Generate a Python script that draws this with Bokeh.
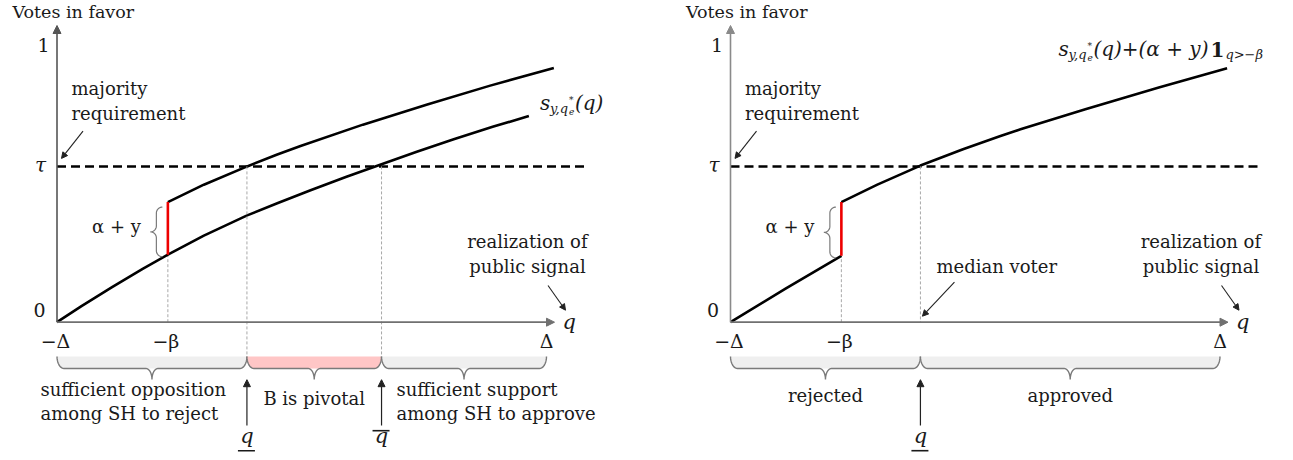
import math
from bokeh.plotting import figure
from bokeh.models import Arrow, NormalHead
from bokeh.layouts import row
from bokeh.embed import file_html
from bokeh.resources import INLINE
from bokeh.core.properties import value

# ---------------- values ----------------
# signal axis q runs from -Δ = -1 to Δ = 1 ; votes in favor run from 0 to 1
DELTA = 1.0
TAU = 0.563          # majority requirement τ
NEG_BETA = -0.547    # -β
Q_LOW = -0.224       # q underlined
Q_BAR = 0.326        # q overlined

# left panel : s_{y,q*}(q) (lower) and the curve shifted by α+y after -β (upper)
left_lower_q = [-1.0, -0.9, -0.775, -0.65, -0.547, -0.4, -0.223, -0.1, 0.036, 0.18, 0.326, 0.47, 0.621, 0.78, 0.928]
left_lower_s = [0.0, 0.058, 0.127, 0.193, 0.244, 0.313, 0.386, 0.43, 0.477, 0.525, 0.571, 0.616, 0.661, 0.706, 0.745]
left_upper_q = [-0.547, -0.4, -0.223, -0.1, -0.005, 0.25, 0.513, 0.77, 1.030]
left_upper_s = [0.434, 0.497, 0.563, 0.606, 0.637, 0.714, 0.787, 0.855, 0.919]

# right panel : s_{y,q*}(q) + (α+y) 1_{q>-β}
right_lower_q = [-1.0, -0.775, -0.547]
right_lower_s = [0.0, 0.121, 0.240]
right_upper_q = [-0.547, -0.4, -0.224, -0.05, 0.103, 0.185, 0.45, 0.75, 1.029]
right_upper_s = [0.434, 0.497, 0.566, 0.625, 0.673, 0.697, 0.770, 0.848, 0.918]

y_tick_labels = ["0", "τ", "1"]
x_tick_labels = ["−Δ", "−β", "Δ"]

left_segments = [(-1.0, Q_LOW, "#efefef"), (Q_LOW, Q_BAR, "#ffc6c6"), (Q_BAR, DELTA, "#efefef")]
right_segments = [(-1.0, Q_LOW, "#efefef"), (Q_LOW, DELTA, "#efefef")]

# ---------------- layout helpers ----------------
PX_X = 244.75   # screen pixels per data unit, horizontal
PX_Y = 276.7    # screen pixels per data unit, vertical
H = 458
Y_TOP = 321.7 / PX_Y
TEXT_RAISE = 7.0  # px


def dx(px):
    return px / PX_X


def dy(px):
    return px / PX_Y


FONT = value("DejaVu Serif")
TEXT = "#1a1a1a"
AXIS = "#707070"
GUIDE = "#a8a8a8"
BRACE = "#7a7a7a"
BAND_TOP = -dy(34.3)


def txt(p, x, y, s, size="18px", style="normal", align="left", color=TEXT):
    p.text(x=[x], y=[y + dy(TEXT_RAISE)], text=[s], text_font=FONT, text_font_size=size,
           text_font_style=style, text_align=align, text_baseline="alphabetic",
           text_color=color)


def arrow(p, x0, y0, x1, y1, color="#222222", width=1.2, size=7):
    p.add_layout(Arrow(end=NormalHead(size=size, fill_color=color, line_color=color, line_width=1),
                       x_start=x0, y_start=y0, x_end=x1, y_end=y1,
                       line_color=color, line_width=width))


def arc(cx, cy, a0, a1, rx, ry, n=10):
    xs = [cx + rx * math.cos(math.radians(a0 + (a1 - a0) * i / n)) for i in range(n + 1)]
    ys = [cy + ry * math.sin(math.radians(a0 + (a1 - a0) * i / n)) for i in range(n + 1)]
    return xs, ys


def hbrace(p, x0, x1, fill):
    ytop = BAND_TOP
    rx, ry, rxc, ryc = dx(7), dy(12), dx(6), dy(11)
    xm = (x0 + x1) / 2
    L = arc(x0 + rx, ytop, 180, 270, rx, ry)
    C1 = arc(xm - rxc, ytop - ry - ryc, 90, 0, rxc, ryc)
    C2 = arc(xm + rxc, ytop - ry - ryc, 180, 90, rxc, ryc)
    R = arc(x1 - rx, ytop, 270, 360, rx, ry)
    p.patch(L[0] + R[0], L[1] + R[1], fill_color=fill, line_color=None)
    p.line(L[0] + C1[0] + C2[0] + R[0], L[1] + C1[1] + C2[1] + R[1],
           line_color=BRACE, line_width=1.4)


def vbrace(p, xr, yt, yb):
    rx, ry = dx(6), dy(6)
    ym = (yt + yb) / 2
    T = arc(xr, yt - ry, 90, 180, rx, ry)
    C1 = arc(xr - 2 * rx, ym + ry, 0, -90, rx, ry)
    C2 = arc(xr - 2 * rx, ym - ry, 90, 0, rx, ry)
    B = arc(xr, yb + ry, 180, 270, rx, ry)
    p.line(T[0] + C1[0] + C2[0] + B[0], T[1] + C1[1] + C2[1] + B[1],
           line_color=BRACE, line_width=1.2)


def qmark(p, x, bar):
    arrow(p, x, -dy(103.3), x, -dy(57.5), color="#222222", width=1.2, size=7)
    txt(p, x, -dy(120.5), "q", size="21px", style="italic", align="center")
    yb = -dy(128.5) if bar == "under" else -dy(108.5)
    p.line([x - dx(9), x + dx(8)], [yb, yb], line_color=TEXT, line_width=1.6)


def panel(width, left_px, lower_q, lower_s, upper_q, upper_s, segments, yaxis_color):
    x0 = -1 - dx(left_px)
    p = figure(width=width, height=H, x_range=(x0, x0 + dx(width)),
               y_range=(Y_TOP - dy(H), Y_TOP), x_axis_type=None, y_axis_type=None,
               toolbar_location=None, output_backend="svg", min_border=0,
               outline_line_color=None, background_fill_color="white",
               border_fill_color="white")

    s_beta_low = lower_s[lower_q.index(NEG_BETA)]
    s_beta_up = upper_s[upper_q.index(NEG_BETA)]

    # bands and braces under the axis
    for a, b, c in segments:
        hbrace(p, a, b, c)

    # thin guide at -β
    p.line([NEG_BETA, NEG_BETA], [0, s_beta_low], line_color=GUIDE, line_width=1, line_dash="3 2")

    # axes
    arrow(p, -1, 0, DELTA + dx(8), 0, color=AXIS, width=1.8, size=8)
    arrow(p, -1, 0, -1, 1 + dy(20), color=yaxis_color, width=1.6, size=8)

    # majority requirement
    p.line([-1, 1.16], [TAU, TAU], line_color="black", line_width=2.5, line_dash="9 5")

    # curves
    p.line(lower_q, lower_s, line_color="black", line_width=2.6, line_join="round")
    p.line(upper_q, upper_s, line_color="black", line_width=2.6, line_join="round")
    p.line([NEG_BETA, NEG_BETA], [s_beta_low, s_beta_up], line_color="#ee0000", line_width=2.6)
    vbrace(p, NEG_BETA - dx(5.5), s_beta_up - dy(5), s_beta_low - dy(2))
    txt(p, NEG_BETA - dx(27), (s_beta_up + s_beta_low) / 2 - dy(5), "α + y", size="18px", align="right")

    # tick labels
    txt(p, -1 - dx(17.5), dy(5), y_tick_labels[0], size="19px", align="center")
    txt(p, -1 - dx(16.5), TAU - dy(6), y_tick_labels[1], size="20px", style="italic", align="center")
    txt(p, -1 - dx(13.5), 1 - dy(6.7), y_tick_labels[2], size="19px", align="center")
    txt(p, -1 - dx(1.5), -dy(25.5), x_tick_labels[0], size="19px", align="center")
    txt(p, NEG_BETA - dx(2), -dy(25.5), x_tick_labels[1], size="19px", align="center")
    txt(p, DELTA, -dy(26), x_tick_labels[2], size="19px", align="center")
    txt(p, DELTA + dx(16), -dy(6.3), "q", size="21px", style="italic")

    txt(p, -1 - dx(44.5), dy(303.2), "Votes in favor", size="17.5px")
    txt(p, -1 + dx(14.5), dy(226.7), "majority", size="18px")
    txt(p, -1 + dx(14.5), dy(201.7), "requirement", size="18px")
    arrow(p, -1 + dx(26), dy(191), -1 + dx(4.5), TAU + dy(8), width=1.1, size=6)

    txt(p, 0.922, dy(73.4), "realization of", size="18px", align="center")
    txt(p, 0.922, dy(48.4), "public signal", size="18px", align="center")
    arrow(p, DELTA + dx(1.5), dy(36.7), DELTA + dx(19), dy(12), width=1.1, size=6)
    return p


# ---------------- left panel ----------------
p1 = panel(681, 56.5, left_lower_q, left_lower_s, left_upper_q, left_upper_s,
           left_segments, "#555555")
p1.line([Q_LOW, Q_LOW], [TAU, BAND_TOP], line_color=GUIDE, line_width=1, line_dash="3 2")
p1.line([Q_BAR, Q_BAR], [TAU, BAND_TOP], line_color=GUIDE, line_width=1, line_dash="3 2")
qmark(p1, Q_LOW, "under")
qmark(p1, Q_BAR, "over")
txt(p1, -1 - dx(16.5), -dy(74.3), "sufficient  opposition")
txt(p1, -1 - dx(16.5), -dy(98.3), "among SH to reject")
txt(p1, (Q_LOW + Q_BAR) / 2, -dy(83.3), "B is pivotal", align="center")
txt(p1, Q_BAR + dx(15), -dy(74.3), "sufficient  support")
txt(p1, Q_BAR + dx(15), -dy(98.3), "among SH to approve")

sx = left_lower_q[-1] + dx(11)
sy = left_lower_s[-1] + dy(5.7)
txt(p1, sx, sy, "s", size="20px", style="italic")
txt(p1, sx + dx(10), sy - dy(5), "y,q", size="13px", style="italic")
txt(p1, sx + dx(29), sy - dy(8), "e", size="9px", style="italic")
txt(p1, sx + dx(29), sy + dy(3), "*", size="9px", style="italic")
txt(p1, sx + dx(35), sy, "(q)", size="20px", style="italic")

# ---------------- right panel ----------------
p2 = panel(610, 49, right_lower_q, right_lower_s, right_upper_q, right_upper_s,
           right_segments, "#8a8a8a")
p2.line([Q_LOW, Q_LOW], [TAU, 0], line_color=GUIDE, line_width=1, line_dash="3 2")
qmark(p2, Q_LOW, "under")
txt(p2, (-1 + Q_LOW) / 2, -dy(80), "rejected", align="center")
txt(p2, (Q_LOW + DELTA) / 2, -dy(80), "approved", align="center")
txt(p2, 0.088, dy(49), "median voter", size="18px", align="center")
arrow(p2, -0.085, dy(40), Q_LOW + dx(2), dy(6), width=1.1, size=6)

rx_ = right_upper_q[-1] - dx(168.7)
ry_ = right_upper_s[-1] + dy(11.7)
txt(p2, rx_, ry_, "s", size="20px", style="italic")
txt(p2, rx_ + dx(10), ry_ - dy(5), "y,q", size="13px", style="italic")
txt(p2, rx_ + dx(29), ry_ - dy(8), "e", size="9px", style="italic")
txt(p2, rx_ + dx(29), ry_ + dy(3), "*", size="9px", style="italic")
txt(p2, rx_ + dx(35), ry_, "(q)+(α + y)", size="20px", style="italic")
txt(p2, rx_ + dx(152), ry_, "1", size="20px", style="bold")
txt(p2, rx_ + dx(167), ry_ - dy(5), "q>−β", size="13px", style="italic")

layout = row(p1, p2)
open("out.html", "w").write(file_html(layout, INLINE))
